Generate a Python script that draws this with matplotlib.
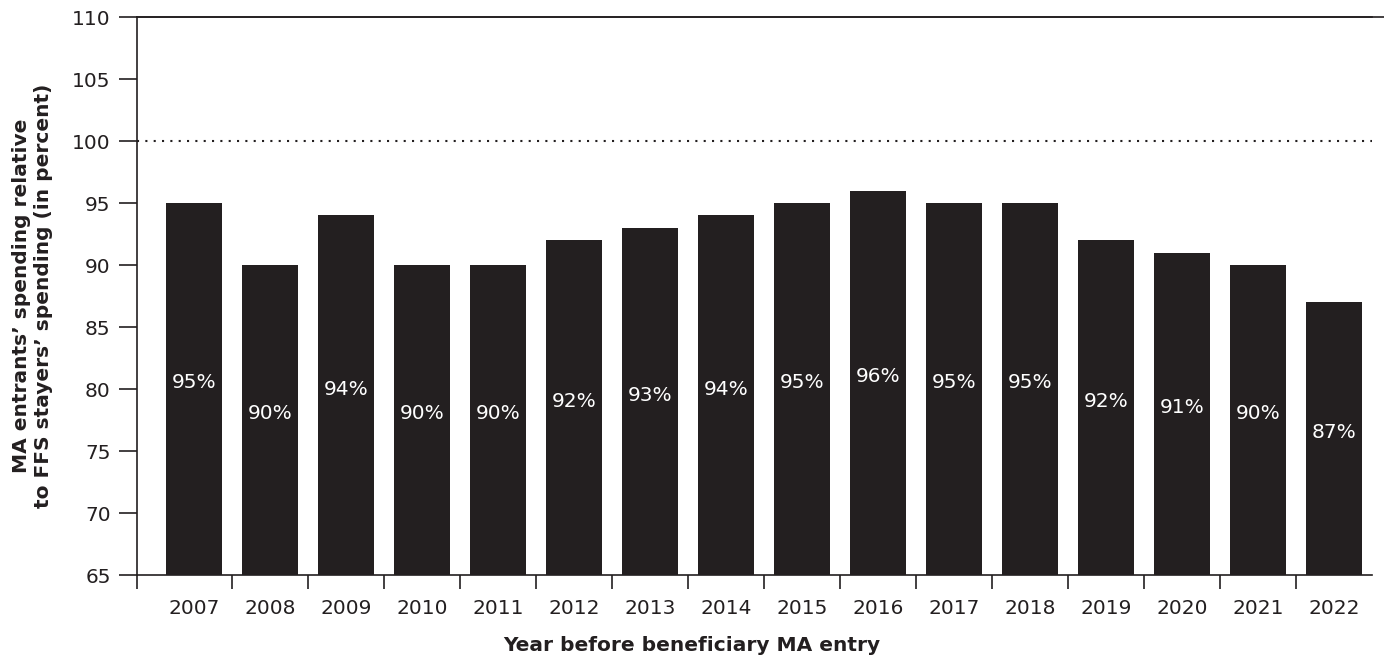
import numpy as np
import matplotlib.pyplot as plt
from matplotlib.lines import Line2D

# --- data ---
years = ["2007", "2008", "2009", "2010", "2011", "2012", "2013", "2014",
         "2015", "2016", "2017", "2018", "2019", "2020", "2021", "2022"]
ratio = [95, 90, 94, 90, 90, 92, 93, 94, 95, 96, 95, 95, 92, 91, 90, 87]
y_ticks = [65, 70, 75, 80, 85, 90, 95, 100, 105, 110]

bar_color = "#231f20"
text_color = "#231f20"
base = 65

plt.rcParams["font.family"] = ["DejaVu Sans"]

fig = plt.figure(figsize=(13.84, 6.58), dpi=100)
ax = fig.add_axes([0.099, 0.1261, 0.8923, 0.8480])

x = np.arange(len(years))
heights = [v - base for v in ratio]
bars = ax.bar(x, heights, bottom=base, width=0.74, color=bar_color, zorder=2)

# value labels inside the bars
for xi, v in zip(x, ratio):
    ax.text(xi, (base + v) / 2 + 0.5, f"{v}%", ha="center", va="center",
            color="white", fontsize=14.5, zorder=3)

# reference line at parity
ax.axhline(100, color=text_color, linewidth=1.5, linestyle=(0, (1, 3)), zorder=1)

ax.set_xlim(-0.75, len(years) - 0.5)
ax.set_ylim(65, 110)
ax.set_yticks(y_ticks)
ax.set_yticklabels([str(t) for t in y_ticks], fontsize=14.5, color=text_color)

# category labels centred on bars, tick marks between categories
ax.set_xticks(x)
ax.set_xticklabels(years, fontsize=14.5, color=text_color)
ax.tick_params(axis="x", which="major", length=0, pad=17)
ax.set_xticks(np.concatenate([[-0.75], x[:-1] + 0.5]), minor=True)
ax.tick_params(axis="x", which="minor", length=10, width=1.2, color=text_color)
ax.tick_params(axis="y", length=13, width=1.2, color=text_color, pad=6)

for side in ["left", "bottom", "top"]:
    ax.spines[side].set_color(text_color)
    ax.spines[side].set_linewidth(1.2)
ax.spines["right"].set_visible(False)

# top border runs out to the figure edge
fig.add_artist(Line2D([0.099, 1.0], [0.974, 0.974], color=text_color,
                      linewidth=1.2, transform=fig.transFigure))

ax.set_ylabel("MA entrants’ spending relative\nto FFS stayers’ spending (in percent)",
              fontsize=14.5, fontweight="bold", color=text_color, labelpad=14,
              linespacing=1.2)
fig.text(0.5, 0.004, "Year before beneficiary MA entry", ha="center", va="bottom",
         fontsize=14.5, fontweight="bold", color=text_color)

fig.savefig("out.png", dpi=100)
